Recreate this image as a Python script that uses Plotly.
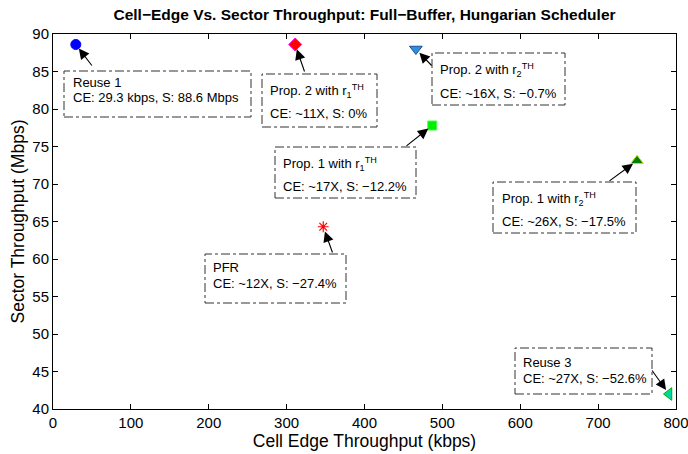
import plotly.graph_objects as go

# ---- data ----
schemes = ["Reuse 1", "Prop. 2 with r1TH", "Prop. 2 with r2TH", "Prop. 1 with r1TH",
           "Prop. 1 with r2TH", "PFR", "Reuse 3"]
cell_edge_kbps = [29.3, 311, 466, 487, 750, 347, 791]
sector_mbps = [88.6, 88.6, 88.0, 77.8, 73.1, 64.3, 42.0]
label_line1 = ["Reuse 1", "Prop. 2 with r<sub>1</sub><sup>TH</sup>", "Prop. 2 with r<sub>2</sub><sup>TH</sup>",
               "Prop. 1 with r<sub>1</sub><sup>TH</sup>", "Prop. 1 with r<sub>2</sub><sup>TH</sup>", "PFR", "Reuse 3"]
label_line2 = ["CE: 29.3 kbps, S: 88.6 Mbps", "CE: ~11X, S: 0%", "CE: ~16X, S: \u22120.7%",
               "CE: ~17X, S: \u221212.2%", "CE: ~26X, S: \u221217.5%", "CE: ~12X, S: \u221227.4%",
               "CE: ~27X, S: \u221252.6%"]

# ---- styles ----
symbols = ["circle", "diamond", "triangle-down", "square", "triangle-up", "asterisk-open", "triangle-left"]
fills = ["#0000ff", "#ff0000", "#2f8fd8", "#00ee00", "#008000", "#ff0000", "#00d8a0"]
edges = ["#0000ff", "#ff00ff", "#1a4f9a", "#44ff44", "#d8d800", "#ff0000", "#00b000"]
sizes = [10, 10, 11, 9, 11, 9, 11]

# ---- layout geometry (pixels in the 688x454 frame) ----
W, H = 688, 454
L, R, T, B = 53, 12, 34, 45
PW, PH = W - L - R, H - T - B
FONT = "Liberation Sans, Arial, sans-serif"

def px2paper(px, py):
    return (px - L) / PW, (H - B - py) / PH

def px2data(px, py):
    return (px - L) / PW * 800, 90 - (py - T) / PH * 50

boxes_px = [(64, 71, 251, 117), (262, 74, 377, 127), (432, 53, 565, 105), (275, 147, 416, 198),
            (493, 182, 636, 233), (205, 254, 346, 303), (515, 348, 652, 394)]
text_px = [(71, 82, 98), (268, 91, 113), (438, 70, 93), (281, 164, 186),
           (500, 199, 221), (211, 267, 283), (521, 362, 378)]
tails_px = [(93, 67), (305, 73), (433, 67), (405, 147), (608, 182), (333, 254), (651, 369)]

fig = go.Figure()
for i in range(len(schemes)):
    sym = symbols[i]
    if sym == "asterisk-open":
        marker = dict(symbol=sym, size=sizes[i], color=edges[i], line=dict(color=edges[i], width=1.2))
    else:
        marker = dict(symbol=sym, size=sizes[i], color=fills[i], line=dict(color=edges[i], width=1))
    fig.add_trace(go.Scatter(x=[cell_edge_kbps[i]], y=[sector_mbps[i]], mode="markers",
                             marker=marker, name=schemes[i], showlegend=False, cliponaxis=False))

shapes = []
annotations = []
font = dict(family=FONT, size=13, color="black")
for i in range(len(schemes)):
    x0, y0, x1, y1 = boxes_px[i]
    a0, b0 = px2paper(x0, y0)
    a1, b1 = px2paper(x1, y1)
    shapes.append(dict(type="rect", xref="paper", yref="paper", x0=a0, x1=a1, y0=b1, y1=b0,
                       line=dict(color="#333333", width=1, dash="dashdot")))
    tx, ty1, ty2 = text_px[i]
    p, q = px2paper(tx, ty1)
    annotations.append(dict(xref="paper", yref="paper", x=p, y=q, text=label_line1[i], showarrow=False,
                            xanchor="left", yanchor="middle", font=font))
    p, q = px2paper(tx, ty2)
    annotations.append(dict(xref="paper", yref="paper", x=p, y=q, text=label_line2[i], showarrow=False,
                            xanchor="left", yanchor="middle", font=font))
    axd, ayd = px2data(*tails_px[i])
    annotations.append(dict(x=cell_edge_kbps[i], y=sector_mbps[i], xref="x", yref="y",
                            ax=axd, ay=ayd, axref="x", ayref="y", text="", showarrow=True,
                            arrowhead=2, arrowsize=1.9, arrowwidth=1.1, arrowcolor="black",
                            standoff=5))

axis_common = dict(showline=True, linecolor="black", linewidth=1, mirror="allticks", ticks="inside",
                   ticklen=5, tickcolor="black", showgrid=False, zeroline=False, automargin=False,
                   ticklabeloverflow="allow",
                   tickfont=dict(family=FONT, size=15, color="black"))

fig.update_layout(
    width=W, height=H, margin=dict(l=L, r=R, t=T, b=B, autoexpand=False),
    paper_bgcolor="white", plot_bgcolor="white",
    title=dict(text="<b>Cell\u2212Edge Vs. Sector Throughput: Full\u2212Buffer, Hungarian Scheduler</b>",
               x=(L + PW / 2) / W, xanchor="center", y=1 - 15 / H, yanchor="middle",
               font=dict(family=FONT, size=15.5, color="black")),
    xaxis=dict(range=[0, 800], dtick=100, tick0=0,
               title=dict(text="Cell Edge Throughput (kbps)", standoff=3,
                          font=dict(family=FONT, size=17.5, color="black")),
               **axis_common),
    yaxis=dict(range=[40, 90], dtick=5, tick0=40,
               title=dict(text="Sector Throughput (Mbps)", standoff=3,
                          font=dict(family=FONT, size=17.5, color="black")),
               **axis_common),
    shapes=shapes, annotations=annotations,
)

fig.write_html("out.html")
